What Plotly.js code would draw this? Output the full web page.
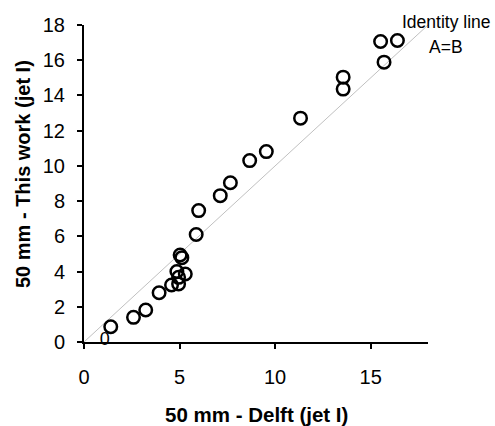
<!DOCTYPE html>
<html>
<head>
<meta charset="utf-8">
<script src="https://cdn.plot.ly/plotly-3.0.1.min.js"></script>
<style>html,body{margin:0;padding:0;background:#fff;}#chart{width:495px;height:426px;}</style>
</head>
<body>
<div id="chart"></div>
<script>
// Data
const delftX = [1.40, 2.59, 3.23, 3.93, 4.58, 4.95, 4.95, 4.86, 5.30, 5.03, 5.12, 5.87, 6.00, 7.13, 7.66, 8.67, 9.54, 11.33, 13.56, 13.56, 15.52, 16.40, 15.70];
const thisWorkY = [0.87, 1.40, 1.82, 2.80, 3.24, 3.30, 3.67, 4.00, 3.86, 4.94, 4.79, 6.10, 7.46, 8.31, 9.04, 10.30, 10.81, 12.71, 15.04, 14.36, 17.06, 17.12, 15.89];
const identityX = [0, 18];
const identityY = [0, 18];
const zeroLabelX = [1.09];
const zeroLabelY = [0.07];
const zeroLabelText = ["0"];
const xTickVals = [0, 5, 10, 15];
const yTickVals = [0, 2, 4, 6, 8, 10, 12, 14, 16, 18];

const FONT = "Liberation Sans, Arial, sans-serif";

const traces = [
  {x: identityX, y: identityY, mode: "lines", line: {color: "#c0c0c0", width: 1}, hoverinfo: "skip", showlegend: false},
  {x: delftX, y: thisWorkY, mode: "markers", showlegend: false, cliponaxis: false,
   marker: {symbol: "circle-open", size: 12.5, color: "#000", line: {color: "#000", width: 2.5}}},
  {x: zeroLabelX, y: zeroLabelY, mode: "text", text: zeroLabelText, showlegend: false, cliponaxis: false,
   textfont: {family: FONT, size: 18, color: "#000000"}, textposition: "middle center"}
];

const axisCommon = {
  showgrid: false, zeroline: false, showline: true, linecolor: "#000", linewidth: 2,
  ticks: "outside", ticklen: 5, tickwidth: 2, tickcolor: "#000",
  tickfont: {family: FONT, size: 20, color: "#000"}, fixedrange: true
};

const layout = {
  width: 495, height: 426,
  margin: {l: 84, r: 67, t: 25, b: 84, pad: 0},
  paper_bgcolor: "#fff", plot_bgcolor: "#fff",
  showlegend: false,
  xaxis: Object.assign({}, axisCommon, {range: [0, 18], tickvals: xTickVals, ticklabelstandoff: 11}),
  yaxis: Object.assign({}, axisCommon, {range: [0, 18], tickvals: yTickVals, ticklabelstandoff: 8}),
  annotations: [
    {xref: "paper", yref: "paper", x: (256 - 84) / 344, y: (342 - 414) / 317, text: "<b>50 mm - Delft (jet I)</b>",
     showarrow: false, font: {family: FONT, size: 20.5, color: "#000"}, xanchor: "center", yanchor: "middle"},
    {xref: "paper", yref: "paper", x: (23 - 84) / 344, y: (342 - 174) / 317, text: "<b>50 mm - This work (jet I)</b>",
     showarrow: false, textangle: -90, font: {family: FONT, size: 20, color: "#000"}, xanchor: "center", yanchor: "middle"},
    {xref: "paper", yref: "paper", x: (446 - 84) / 344, y: (342 - 22) / 317, text: "Identity line",
     showarrow: false, font: {family: FONT, size: 17.5, color: "#000"}, xanchor: "center", yanchor: "middle"},
    {xref: "paper", yref: "paper", x: (446 - 84) / 344, y: (342 - 47) / 317, text: "A=B",
     showarrow: false, font: {family: FONT, size: 17.5, color: "#000"}, xanchor: "center", yanchor: "middle"}
  ]
};

Plotly.newPlot("chart", traces, layout, {displayModeBar: false, staticPlot: true});
</script>
</body>
</html>
